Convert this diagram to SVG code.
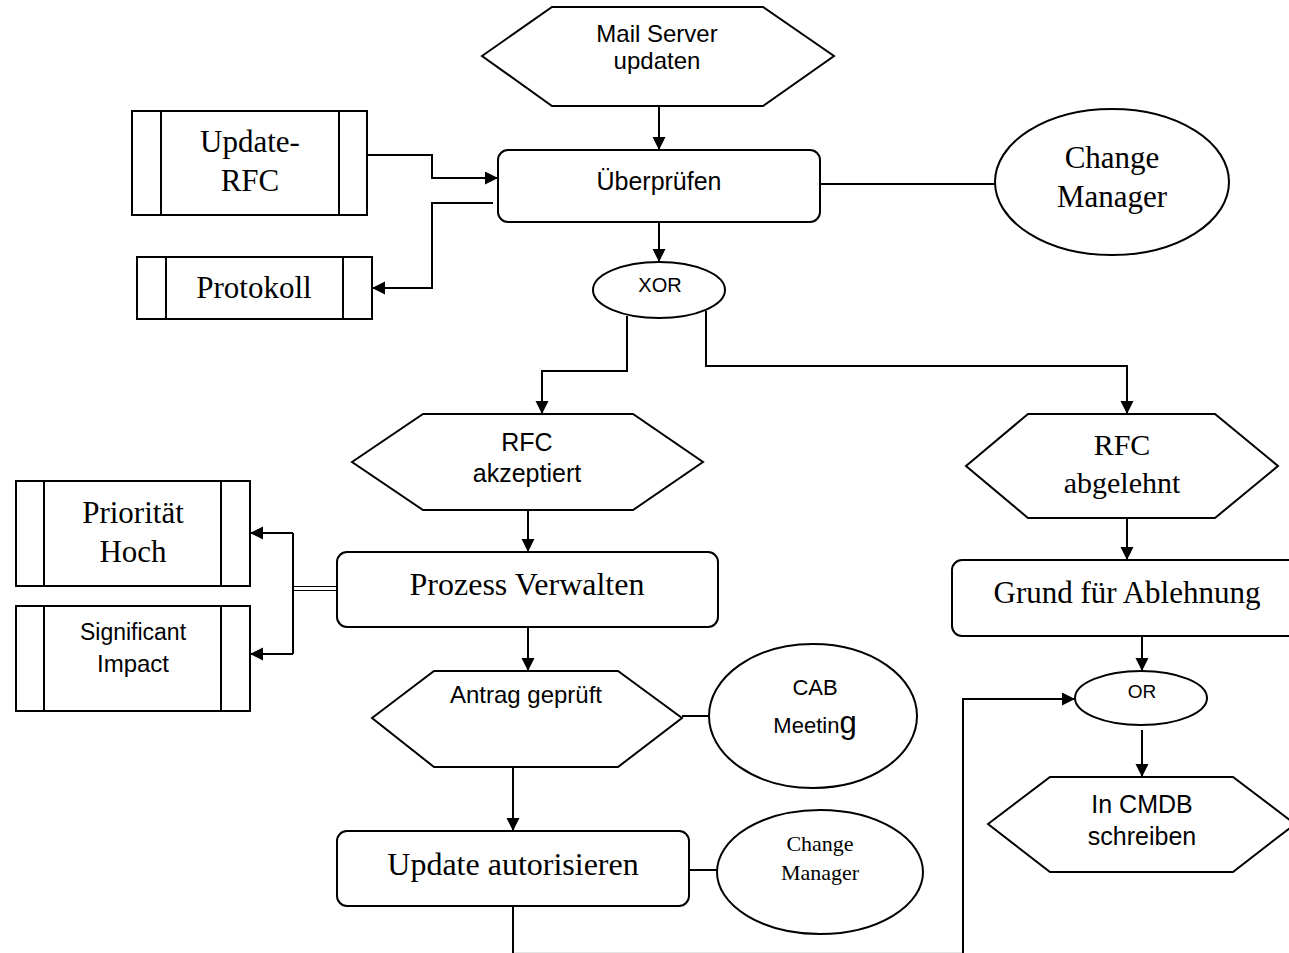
<svg xmlns="http://www.w3.org/2000/svg" width="1289" height="953" viewBox="0 0 1289 953">
<style>
.s{fill:#fff;stroke:#000;stroke-width:2}
.l{fill:none;stroke:#000;stroke-width:2}
.a{font-family:"Liberation Sans",Arial,sans-serif;fill:#000;text-anchor:middle}
.t{font-family:"Liberation Serif","Times New Roman",serif;fill:#000;text-anchor:middle}
</style>
<defs>
<marker id="arr" markerUnits="userSpaceOnUse" markerWidth="14" markerHeight="14" refX="13" refY="6.5" orient="auto">
<path d="M0,0 L13,6.5 L0,13 z" fill="#000"/>
</marker>
</defs>
<rect width="1289" height="953" fill="#fff"/>
<g id="connectors">
<path class="l" d="M659,106 V150" marker-end="url(#arr)"/>
<path class="l" d="M367,155 H432 V178 H498" marker-end="url(#arr)"/>
<path class="l" d="M493,203 H432 V288 H372" marker-end="url(#arr)"/>
<path class="l" d="M820,184 H995"/>
<path class="l" d="M659,222 V262" marker-end="url(#arr)"/>
<path class="l" d="M627,316 V371 H542 V414" marker-end="url(#arr)"/>
<path class="l" d="M706,311 V366 H1127 V414" marker-end="url(#arr)"/>
<path class="l" d="M528,510 V552" marker-end="url(#arr)"/>
<path fill="none" stroke="#000" stroke-width="1.2" d="M338,586.5 H293 M338,590.5 H293"/>
<path class="l" d="M293,533 V654"/>
<path class="l" d="M293,533 H250" marker-end="url(#arr)"/>
<path class="l" d="M293,654 H250" marker-end="url(#arr)"/>
<path class="l" d="M528,627 V671" marker-end="url(#arr)"/>
<path class="l" d="M682,716 H709"/>
<path class="l" d="M513,767 V831" marker-end="url(#arr)"/>
<path class="l" d="M689,870 H717"/>
<path class="l" d="M513,906 V953"/>
<path fill="none" stroke="#e4e4e4" stroke-width="1" d="M514,952.5 H962"/>
<path class="l" d="M963,953 V699 H1075" marker-end="url(#arr)"/>
<path class="l" d="M1127,518 V560" marker-end="url(#arr)"/>
<path class="l" d="M1142,636 V671" marker-end="url(#arr)"/>
<path class="l" d="M1142,730 V777" marker-end="url(#arr)"/>
</g>
<g id="mail-server">
<polygon class="s" points="482,56 552,7 763,7 834,56 763,106 552,106"/>
<text class="a" font-size="24" x="657" y="42">Mail Server</text>
<text class="a" font-size="24" x="657" y="69">updaten</text>
</g>
<g id="ueberpruefen">
<rect class="s" x="498" y="150" width="322" height="72" rx="10"/>
<text class="a" font-size="25" x="659" y="190">Überprüfen</text>
</g>
<g id="change-manager-1">
<ellipse class="s" cx="1112" cy="182" rx="117" ry="73"/>
<text class="t" font-size="31" x="1112" y="168">Change</text>
<text class="t" font-size="31" x="1112" y="207">Manager</text>
</g>
<g id="update-rfc">
<rect class="s" x="132" y="111" width="235" height="104"/>
<path class="l" d="M161,111 V215 M339,111 V215"/>
<text class="t" font-size="31" x="250" y="152">Update-</text>
<text class="t" font-size="31" x="250" y="191">RFC</text>
</g>
<g id="protokoll">
<rect class="s" x="137" y="257" width="235" height="62"/>
<path class="l" d="M166,257 V319 M343,257 V319"/>
<text class="t" font-size="31" x="254" y="298">Protokoll</text>
</g>
<g id="xor">
<ellipse class="s" cx="659" cy="290" rx="66" ry="28"/>
<text class="a" font-size="20" x="660" y="292">XOR</text>
</g>
<g id="rfc-akzeptiert">
<polygon class="s" points="352,462 423,414 633,414 703,462 633,510 423,510"/>
<text class="a" font-size="25" x="527" y="451">RFC</text>
<text class="a" font-size="25" x="527" y="482">akzeptiert</text>
</g>
<g id="rfc-abgelehnt">
<polygon class="s" points="966,466 1028,414 1215,414 1278,466 1215,518 1028,518"/>
<text class="t" font-size="30" x="1122" y="455">RFC</text>
<text class="t" font-size="30" x="1122" y="493">abgelehnt</text>
</g>
<g id="prioritaet-hoch">
<rect class="s" x="16" y="481" width="234" height="105"/>
<path class="l" d="M44,481 V586 M221,481 V586"/>
<text class="t" font-size="31" x="133" y="523">Priorität</text>
<text class="t" font-size="31" x="133" y="562">Hoch</text>
</g>
<g id="significant-impact">
<rect class="s" x="16" y="606" width="234" height="105"/>
<path class="l" d="M44,606 V711 M221,606 V711"/>
<text class="a" font-size="23" x="133" y="640">Significant</text>
<text class="a" font-size="24" x="133" y="672">Impact</text>
</g>
<g id="prozess-verwalten">
<rect class="s" x="337" y="552" width="381" height="75" rx="10"/>
<text class="t" font-size="32" x="527" y="595">Prozess Verwalten</text>
</g>
<g id="antrag-geprueft">
<polygon class="s" points="372,718 434,671 618,671 682,718 618,767 434,767"/>
<text class="a" font-size="24" x="526" y="703">Antrag geprüft</text>
</g>
<g id="cab-meeting">
<ellipse class="s" cx="813" cy="716" rx="104" ry="72"/>
<text class="a" font-size="22" x="815" y="695">CAB</text>
<text class="a" font-size="22" x="815" y="733">Meetin<tspan font-size="31">g</tspan></text>
</g>
<g id="update-autorisieren">
<rect class="s" x="337" y="831" width="352" height="75" rx="10"/>
<text class="t" font-size="32" x="513" y="875">Update autorisieren</text>
</g>
<g id="change-manager-2">
<ellipse class="s" cx="820" cy="872" rx="103" ry="62"/>
<text class="t" font-size="22" x="820" y="851">Change</text>
<text class="t" font-size="22" x="820" y="880">Manager</text>
</g>
<g id="grund-fuer-ablehnung">
<rect class="s" x="952" y="560" width="350" height="76" rx="10"/>
<text class="t" font-size="31" x="1127" y="603">Grund für Ablehnung</text>
</g>
<g id="or">
<ellipse class="s" cx="1141" cy="698" rx="66" ry="27"/>
<text class="a" font-size="19" x="1142" y="698">OR</text>
</g>
<g id="in-cmdb-schreiben">
<polygon class="s" points="988,824 1050,777 1233,777 1295,824 1233,872 1050,872"/>
<text class="a" font-size="25" x="1142" y="813">In CMDB</text>
<text class="a" font-size="25" x="1142" y="845">schreiben</text>
</g>
</svg>
